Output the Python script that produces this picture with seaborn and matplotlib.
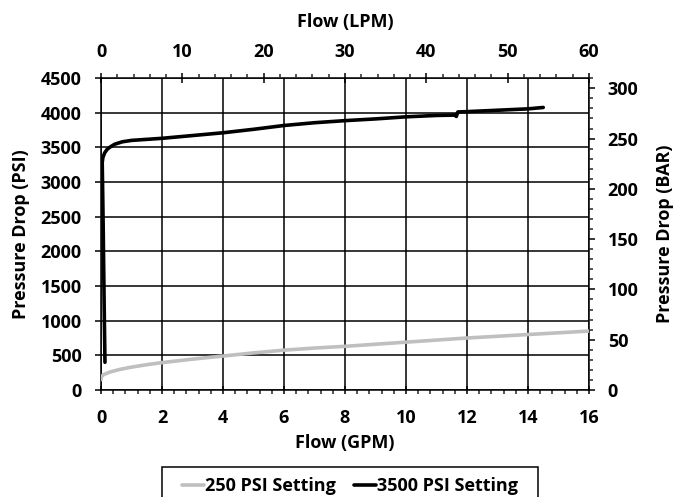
import numpy as np
import pandas as pd
import matplotlib
matplotlib.use('Agg')
import matplotlib.pyplot as plt
import seaborn as sns
from matplotlib.ticker import MultipleLocator
from matplotlib.patches import Rectangle

# ------------------------
# Data
# ------------------------
gpm_250 = [0.0, 0.02, 0.1, 0.3, 0.6, 1.0, 1.5, 2.0, 3.0, 4.0, 5.0, 6.0, 7.0, 8.0,
           9.0, 10.0, 11.0, 12.0, 13.0, 14.0, 15.0, 16.0]
psi_250 = [150, 200, 225, 260, 295, 330, 365, 395, 445, 490, 535, 575, 605, 630,
           660, 690, 720, 750, 775, 800, 825, 850]

gpm_3500 = [0.13, 0.11, 0.09, 0.07, 0.05, 0.04, 0.06, 0.12, 0.2, 0.3, 0.45, 0.7,
            1.0, 1.5, 2.0, 3.0, 4.0, 5.0, 6.0, 7.0, 8.0, 9.0, 10.0, 11.0, 11.6,
            11.65, 11.7, 12.0, 13.0, 14.0, 14.5]
psi_3500 = [400, 1000, 1700, 2400, 3000, 3280, 3350, 3420, 3470, 3505, 3545, 3580,
            3600, 3615, 3630, 3670, 3710, 3760, 3815, 3855, 3885, 3910, 3940, 3960, 3965,
            3945, 4010, 4015, 4035, 4055, 4075]

series_names = ['250 PSI Setting', '3500 PSI Setting']
series_colors = ['#BFBFBF', '#000000']

PSI_PER_BAR = 14.5038
GPM_MAX = 16
LPM_MAX = 60
PSI_MAX = 4500

# ------------------------
# Style
# ------------------------
sns.set_style('white')
plt.rcParams['font.family'] = ['Open Sans', 'DejaVu Sans']
plt.rcParams['font.weight'] = 'bold'
plt.rcParams['axes.labelweight'] = 'bold'
plt.rcParams['text.color'] = 'black'
plt.rcParams['axes.labelcolor'] = 'black'
FS = 13

fig = plt.figure(figsize=(6.75, 4.97), dpi=100)
ax = fig.add_axes([101 / 675, 1 - 390 / 497, 488 / 675, 312 / 497])

df250 = pd.DataFrame({'gpm': gpm_250, 'psi': psi_250})
df3500 = pd.DataFrame({'gpm': gpm_3500, 'psi': psi_3500})

sns.lineplot(data=df250, x='gpm', y='psi', ax=ax, color=series_colors[0], lw=2.6,
             sort=False, estimator=None, label=series_names[0], zorder=3)
sns.lineplot(data=df3500, x='gpm', y='psi', ax=ax, color=series_colors[1], lw=2.6,
             sort=False, estimator=None, label=series_names[1], zorder=4)

ax.set_xlim(0, GPM_MAX)
ax.set_ylim(0, PSI_MAX)
ax.xaxis.set_major_locator(MultipleLocator(2))
ax.xaxis.set_minor_locator(MultipleLocator(0.4))
ax.yaxis.set_major_locator(MultipleLocator(500))
ax.grid(True, which='major', color='black', lw=1.1)
ax.set_axisbelow(True)
for s in ax.spines.values():
    s.set_color('black')
    s.set_linewidth(1.1)
ax.tick_params(axis='x', which='major', direction='inout', length=5.8, width=1.1,
               labelsize=FS, pad=11, colors='black', bottom=True)
ax.tick_params(axis='x', which='minor', direction='out', length=3, width=1.1, bottom=True)
ax.tick_params(axis='y', which='major', direction='out', length=4.3, width=1.1,
               labelsize=FS, pad=9.5, colors='black', left=True)
ax.set_xlabel('Flow (GPM)', fontsize=FS, fontweight='bold', labelpad=5)
ax.set_ylabel('Pressure Drop (PSI)', fontsize=FS, fontweight='bold', labelpad=8)
ax.get_legend().remove()

# top axis in LPM
ax_top = ax.twiny()
ax_top.set_xlim(0, LPM_MAX)
ax_top.xaxis.set_major_locator(MultipleLocator(10))
ax_top.xaxis.set_minor_locator(MultipleLocator(2))
ax_top.tick_params(axis='x', which='major', direction='inout', length=6.5, width=1.1,
                   labelsize=FS, pad=8.7, colors='black')
ax_top.tick_params(axis='x', which='minor', direction='out', length=3, width=1.1)
ax_top.set_xlabel('Flow (LPM)', fontsize=FS, fontweight='bold', labelpad=11.5)
ax_top.grid(False)
for s in ax_top.spines.values():
    s.set_visible(False)

# right axis in BAR
ax_right = ax.twinx()
ax_right.set_ylim(0, PSI_MAX / PSI_PER_BAR)
ax_right.yaxis.set_major_locator(MultipleLocator(50))
ax_right.yaxis.set_minor_locator(MultipleLocator(10))
ax_right.tick_params(axis='y', which='major', direction='out', length=4, width=1.1,
                     labelsize=FS, pad=9.5, colors='black')
ax_right.tick_params(axis='y', which='minor', direction='out', length=3, width=1.1)
ax_right.set_ylabel('Pressure Drop (BAR)', fontsize=FS, fontweight='bold', labelpad=12.5)
ax_right.grid(False)
for s in ax_right.spines.values():
    s.set_visible(False)

for a in (ax, ax_top, ax_right):
    for lbl in a.get_xticklabels() + a.get_yticklabels():
        lbl.set_fontweight('bold')

# legend at the bottom (frame drawn separately so it can be wider than the content)
handles = [plt.Line2D([], [], color=c, lw=2.6) for c in series_colors]
leg = fig.legend(handles, series_names, loc='upper center',
                 bbox_to_anchor=(350 / 675, 1 - 466 / 497),
                 ncol=2, frameon=False, borderaxespad=0,
                 handlelength=1.2, handletextpad=0.05, columnspacing=1.0,
                 borderpad=0.6, prop={'weight': 'bold', 'size': FS})
fig.canvas.draw()
bb = leg.get_window_extent().transformed(fig.transFigure.inverted())
extra = 10 / 675
top = 1 - 467 / 497
fig.patches.append(Rectangle((bb.x0 - extra, -0.02), bb.width + 2 * extra, top + 0.02,
                             transform=fig.transFigure, fill=False, edgecolor='black',
                             lw=1.1, figure=fig))

fig.savefig('out.png', dpi=100)
plt.close()
